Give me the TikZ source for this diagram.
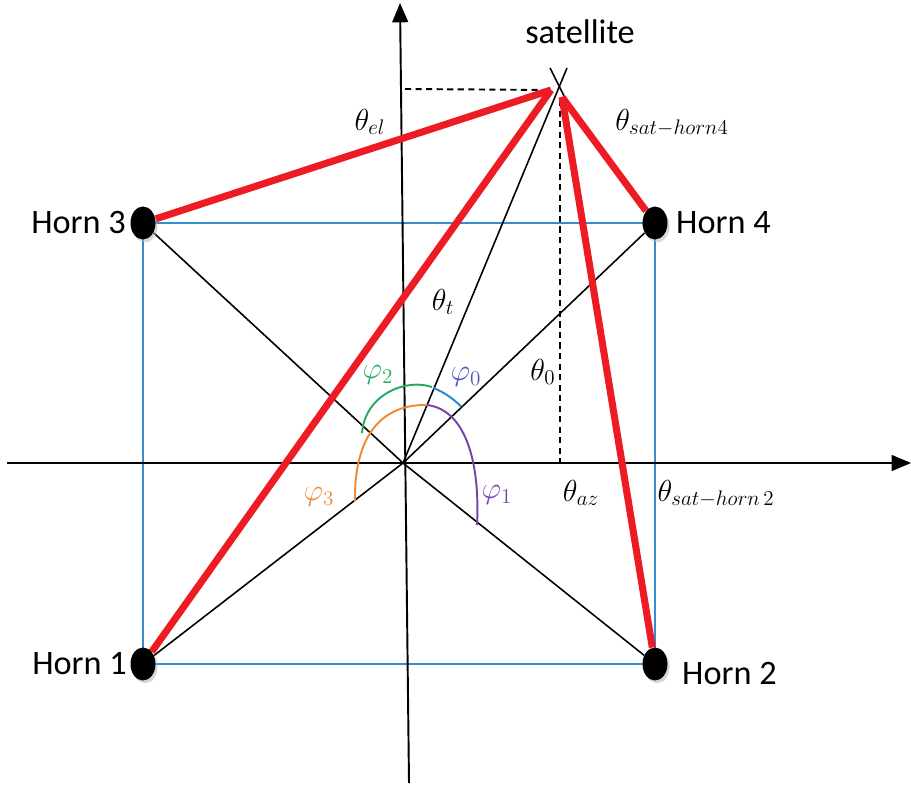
\documentclass[tikz,border=0pt]{standalone}
\usepackage{fontspec}
\setmainfont{Carlito}
\usepackage{xcolor}
\usepackage{tikz}
\usetikzlibrary{shapes.geometric, arrows.meta, positioning, backgrounds, shadows, calc}
\definecolor{beamred}{RGB}{237, 28, 36}
\definecolor{gridblue}{RGB}{52, 140, 210}
\definecolor{arcgreen}{RGB}{34, 170, 96}
\definecolor{arcblue}{RGB}{36, 136, 206}
\definecolor{arcorange}{RGB}{240, 138, 50}
\definecolor{arcpurple}{RGB}{118, 66, 170}
\definecolor{labelblue}{RGB}{72, 82, 190}

\begin{document}
\begin{tikzpicture}[
    x=0.02cm, y=-0.02cm,
    horn/.style={ellipse, fill=black, minimum width=0.5cm, minimum height=0.66cm,
                 inner sep=0pt, drop shadow={shadow xshift=1.2pt, shadow yshift=-1.6pt,
                 fill=black!30}},
    hornlabel/.style={inner sep=0pt, font=\fontsize{19.5}{22}\selectfont},
    mathlabel/.style={inner sep=0pt, font=\fontsize{18}{20}\selectfont},
    axis/.style={line width=1.1pt, -{Triangle[length=11pt, width=9pt]}},
    ray/.style={line width=0.9pt},
    beam/.style={draw=beamred, line width=4pt},
    guide/.style={line width=1.1pt, dash pattern=on 3.5pt off 2.5pt},
    arcline/.style={line width=1.1pt}
]
    \useasboundingbox (0,0) rectangle (911,786);

    % Horns
    \node[horn] (h3) at (143,223) {};
    \node[horn] (h4) at (655,223) {};
    \node[horn] (h1) at (143,664) {};
    \node[horn] (h2) at (655,664) {};
    \node[hornlabel, left=0.08cm of h3] {Horn 3};
    \node[hornlabel, right=0.16cm of h4] {Horn 4};
    \node[hornlabel, left=0.06cm of h1] {Horn 1};
    \node[hornlabel, right=0.28cm of h2, yshift=-0.18cm] {Horn 2};

    % Points
    \coordinate (O) at (403,463);
    \coordinate (satL) at (551,90);
    \coordinate (satR) at (562,97);
    \coordinate (satTip) at (567,68);
    \coordinate (xa) at (550,68);
    \coordinate (xb) at (564,96);
    \coordinate (elfoot) at (405,89);
    \coordinate (azTop) at (560,100);
    \coordinate (azfoot) at (560,463);
    \node[hornlabel] (satname) at (580,32) {satellite};

    \begin{scope}[on background layer]
        % Blue frame and rays
        \draw[gridblue, line width=1pt] (h3.center) -- (h4.center) -- (h2.center)
            -- (h1.center) -- cycle;
        \draw[ray] (O) -- (h1);
        \draw[ray] (O) -- (h2);
        \draw[ray] (O) -- (h3);
        \draw[ray] (O) -- (h4);
        \draw[ray] (O) -- (satTip);
        \draw[ray] (xa) -- (xb);

        % Axes
        \draw[axis] (7,463) -- (911,463);
        \draw[axis] (409,783) -- (400,3);

        % Dashed guides
        \draw[guide] (elfoot) -- (satL);
        \draw[guide] (azTop) -- (azfoot);

        % Angle arcs
        \draw[arcline, arcorange] (355,501) .. controls (354,445) and (375,404) .. (427,405);
        \draw[arcline, arcblue] ($(O)+(68:1.62cm)$) arc[start angle=68, end angle=44, radius=1.62cm];
        \draw[arcline, arcgreen] (362,433) .. controls (365,395) and (405,378) .. (432,387);
        \draw[arcline, arcpurple] (427,405) .. controls (468,410) and (480,468) .. (477,525);

        % Beams
        \draw[beam] (h3) -- (satL);
        \draw[beam] (h1) -- (satL);
        \draw[beam] (satR) -- (h4);
        \draw[beam] (satR) -- (h2);
    \end{scope}

    % Angle labels
    \node[mathlabel] (el) at (370,122) {$\theta_{el}$};
    \node[mathlabel] (sh4) at (672,123) {$\theta_{sat-horn4}$};
    \node[mathlabel] (tt) at (443,302) {$\theta_t$};
    \node[mathlabel] (t0) at (543,372) {$\theta_0$};
    \node[mathlabel] (az) at (581,493) {$\theta_{az}$};
    \node[mathlabel] (sh2) at (716,494) {$\theta_{sat-horn\,2}$};
    \node[mathlabel, text=labelblue] (p0) at (466,377) {$\varphi_0$};
    \node[mathlabel, text=arcgreen] (p2) at (378,375) {$\varphi_2$};
    \node[mathlabel, text=arcpurple] (p1) at (497,495) {$\varphi_1$};
    \node[mathlabel, text=arcorange] (p3) at (319,497) {$\varphi_3$};
\end{tikzpicture}
\end{document}
